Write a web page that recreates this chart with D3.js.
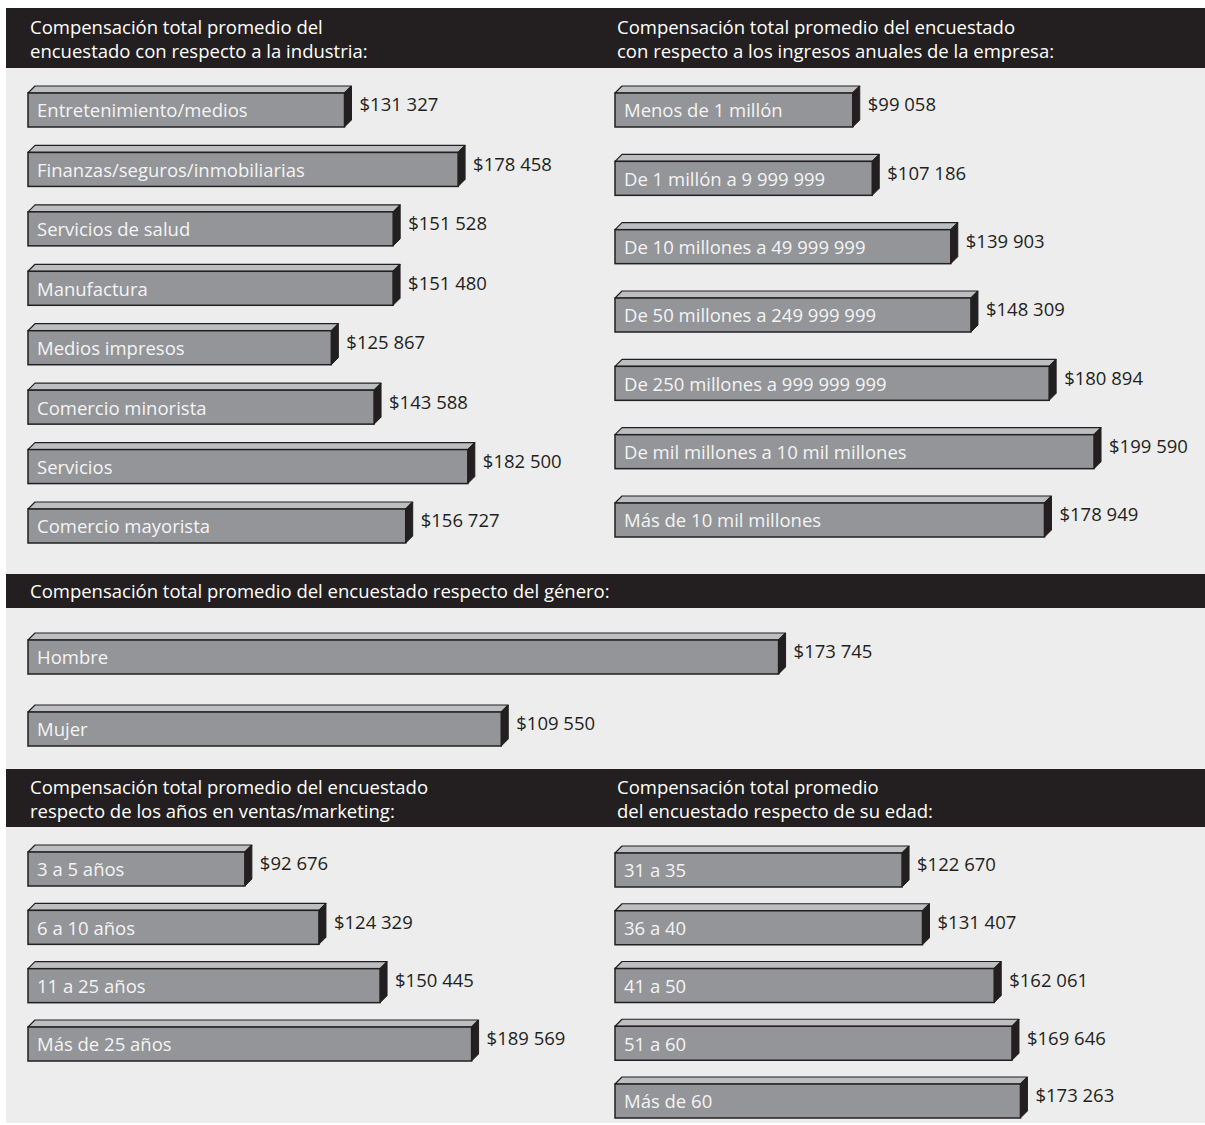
<!DOCTYPE html>
<html>
<head>
<meta charset="utf-8">
<script src="https://cdn.jsdelivr.net/npm/d3@7"></script>
<style>
  body { margin: 0; background: #fff; }
  svg { display: block; }
  text { font-family: "Open Sans", "Noto Sans", sans-serif; }
</style>
</head>
<body>
<svg id="chart"></svg>
<script>
// data
var industryTitle = ["Compensación total promedio del", "encuestado con respecto a la industria:"];
var industryCats = ["Entretenimiento/medios", "Finanzas/seguros/inmobiliarias", "Servicios de salud", "Manufactura",
    "Medios impresos", "Comercio minorista", "Servicios", "Comercio mayorista"];
var industryVals = [131327, 178458, 151528, 151480, 125867, 143588, 182500, 156727];

var revenueTitle = ["Compensación total promedio del encuestado", "con respecto a los ingresos anuales de la empresa:"];
var revenueCats = ["Menos de 1 millón", "De 1 millón a 9 999 999", "De 10 millones a 49 999 999", "De 50 millones a 249 999 999",
    "De 250 millones a 999 999 999", "De mil millones a 10 mil millones", "Más de 10 mil millones"];
var revenueVals = [99058, 107186, 139903, 148309, 180894, 199590, 178949];

var genderTitle = ["Compensación total promedio del encuestado respecto del género:"];
var genderCats = ["Hombre", "Mujer"];
var genderVals = [173745, 109550];

var yearsTitle = ["Compensación total promedio del encuestado", "respecto de los años en ventas/marketing:"];
var yearsCats = ["3 a 5 años", "6 a 10 años", "11 a 25 años", "Más de 25 años"];
var yearsVals = [92676, 124329, 150445, 189569];

var ageTitle = ["Compensación total promedio", "del encuestado respecto de su edad:"];
var ageCats = ["31 a 35", "36 a 40", "41 a 50", "51 a 60", "Más de 60"];
var ageVals = [122670, 131407, 162061, 169646, 173263];

var W = 1205, H = 1125;
var svg = d3.select("#chart").attr("width", W).attr("height", H);

var DARK = "#231f20";
var FS = 18.5;
var fmt = function(v) { return "$" + d3.format(",")(v).replace(/,/g, " "); };

// light background panel
svg.append("rect").attr("x", 6).attr("y", 8).attr("width", W - 6).attr("height", 1115).attr("fill", "#ededed");

// dark header bands
function header(y, h) {
    svg.append("rect").attr("x", 6).attr("y", y).attr("width", W - 6).attr("height", h).attr("fill", DARK);
}
header(8, 60);
header(574, 34);
header(769, 58);

function title(lines, x, yFirst) {
    var t = svg.append("g");
    lines.forEach(function(l, i) {
        t.append("text")
            .attr("x", x).attr("y", yFirst + i * 24)
            .attr("dy", "0.35em")
            .attr("fill", "#ffffff")
            .attr("font-size", FS)
            .text(l);
    });
}
title(industryTitle, 30, 28);
title(revenueTitle, 617, 28);
title(genderTitle, 30, 592);
title(yearsTitle, 30, 788);
title(ageTitle, 617, 788);

var BAR_H = 34, DEPTH = 7;

function panel(cats, vals, x0, pxPer100k, yFirst, yLast) {
    var x = d3.scaleLinear().domain([0, 100000]).range([x0, x0 + pxPer100k]);
    var y = d3.scalePoint().domain(cats).range([yFirst, yLast]);
    var g = svg.append("g");
    var bars = g.selectAll("g.bar").data(cats.map(function(c, i) { return {cat: c, val: vals[i]}; }))
        .enter().append("g").attr("class", "bar");

    bars.each(function(d) {
        var b = d3.select(this);
        var xl = x(0), xr = x(d.val);
        var yt = y(d.cat) - BAR_H / 2, yb = y(d.cat) + BAR_H / 2;
        // top face
        b.append("polygon")
            .attr("points", [[xl, yt], [xl + DEPTH, yt - DEPTH], [xr + DEPTH, yt - DEPTH], [xr, yt]].join(" "))
            .attr("fill", "#bcbec0").attr("stroke", DARK).attr("stroke-width", 1.2).attr("stroke-linejoin", "round");
        // side face
        b.append("polygon")
            .attr("points", [[xr, yt], [xr + DEPTH, yt - DEPTH], [xr + DEPTH, yb - DEPTH], [xr, yb]].join(" "))
            .attr("fill", DARK).attr("stroke", DARK).attr("stroke-width", 1);
        // front face
        b.append("rect")
            .attr("x", xl).attr("y", yt).attr("width", xr - xl).attr("height", BAR_H)
            .attr("fill", "#939598").attr("stroke", DARK).attr("stroke-width", 1.5);
        // category label
        b.append("text")
            .attr("x", xl + 9).attr("y", y(d.cat) + 1).attr("dy", "0.35em")
            .attr("fill", "#f4f4f4").attr("font-size", FS)
            .text(d.cat);
        // value label
        b.append("text")
            .attr("x", xr + DEPTH + 8).attr("y", y(d.cat) - 5).attr("dy", "0.35em")
            .attr("fill", DARK).attr("font-size", FS)
            .text(fmt(d.val));
    });
}

panel(industryCats, industryVals, 28, 241, 110, 526);
panel(revenueCats, revenueVals, 615, 240, 110, 520);
panel(genderCats, genderVals, 28, 432, 657, 729);
panel(yearsCats, yearsVals, 28, 234, 869, 1044);
panel(ageCats, ageVals, 615, 234, 870, 1101);
</script>
</body>
</html>
